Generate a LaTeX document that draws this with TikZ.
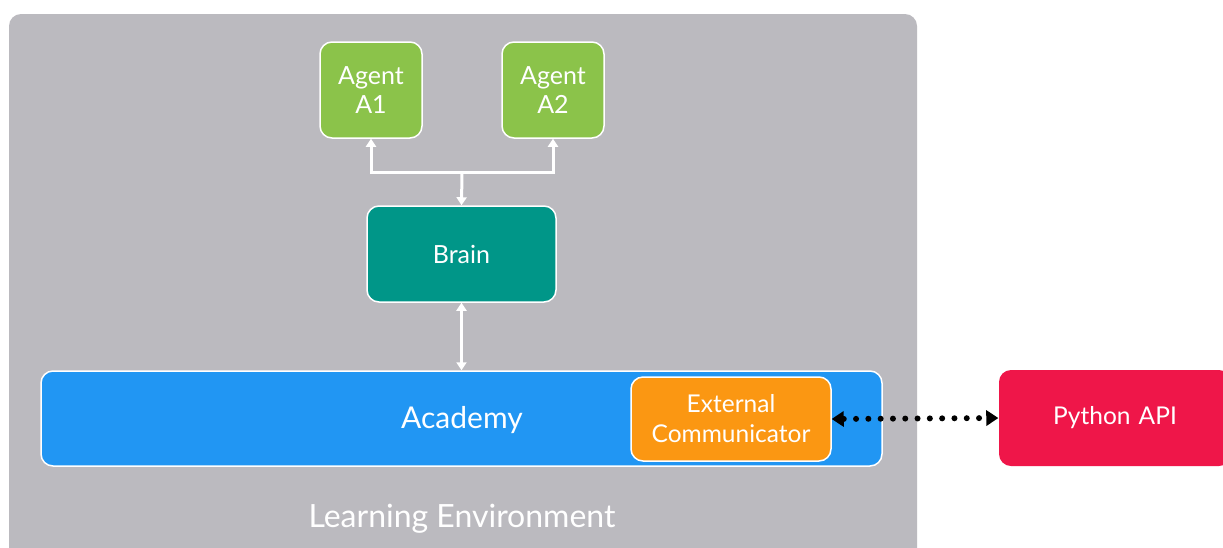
\documentclass[tikz,border=0pt]{standalone}
\usepackage{fontspec}
\setmainfont{Lato}
\usetikzlibrary{arrows.meta}
\definecolor{envgrey}{HTML}{BBBABF}
\definecolor{agentgreen}{HTML}{8BC34A}
\definecolor{brainteal}{HTML}{009688}
\definecolor{academyblue}{HTML}{2196F3}
\definecolor{commorange}{HTML}{FB9712}
\definecolor{apired}{HTML}{EF1649}
\tikzset{
  box/.style={draw=white, line width=1.5pt, rounded corners=12pt, text=white, align=center, inner sep=0pt},
  agentbox/.style={box, fill=agentgreen, minimum width=102pt, minimum height=96pt, font=\fontsize{25}{29}\selectfont},
  wlink/.style={draw=white, line width=3pt, -{Triangle[length=8pt,width=10pt]}},
  wlinkb/.style={draw=white, line width=3pt, {Triangle[length=8pt,width=10pt]}-{Triangle[length=8pt,width=10pt]}},
  dlink/.style={draw=black, line width=6pt, line cap=round, dash pattern=on 0pt off 12.3pt, {Triangle[length=12pt,width=16pt,line width=0pt]}-{Triangle[length=12pt,width=16pt,line width=0pt]}}
}
\begin{document}
\begin{tikzpicture}[x=1pt,y=-1pt]
\useasboundingbox (0,0) rectangle (1223,547);
\clip (0,0) rectangle (1223,547);
\fill[white] (0,0) rectangle (1223,547);
% environment
\fill[envgrey, rounded corners=12pt] (9,14) rectangle (917,580);
\node[text=white, font=\fontsize{32}{36}\selectfont] (env) at (462,519) {Learning Environment};
% agents
\node[agentbox] (a1) at (371,90) {Agent\\A1};
\node[agentbox] (a2) at (553,90) {Agent\\A2};
% brain
\node[box, fill=brainteal, minimum width=189pt, minimum height=96pt, font=\fontsize{25}{29}\selectfont] (brain) at (461.5,254) {Brain};
% academy
\node[box, fill=academyblue, minimum width=841pt, minimum height=95pt] (academy) at (461.5,418.5) {};
\node[text=white, font=\fontsize{30}{34}\selectfont] (acadlabel) at (462,420) {Academy};
\node[box, fill=commorange, minimum width=200pt, minimum height=84pt, font=\fontsize{24.5}{30}\selectfont] (comm) at (731,419) {External\\Communicator};
% python api
\node[box, draw=none, fill=apired, minimum width=232pt, minimum height=96pt, font=\fontsize{24.5}{28}\selectfont, text width=232pt] (api) at (1115,418) {Python API};
% connectors
\coordinate (j) at (462,172);
\coordinate (ja1) at (371,172);
\coordinate (ja2) at (553,172);
\draw[wlink] (j) -- (ja1) -- (a1.south);
\draw[wlink] (j) -- (ja2) -- (a2.south);
\draw[wlink] (j) -- (brain.north);
\draw[wlinkb] (brain.south) -- (academy.north -| brain.south);
\draw[dlink] (comm.east) -- (api.west);
\end{tikzpicture}
\end{document}
